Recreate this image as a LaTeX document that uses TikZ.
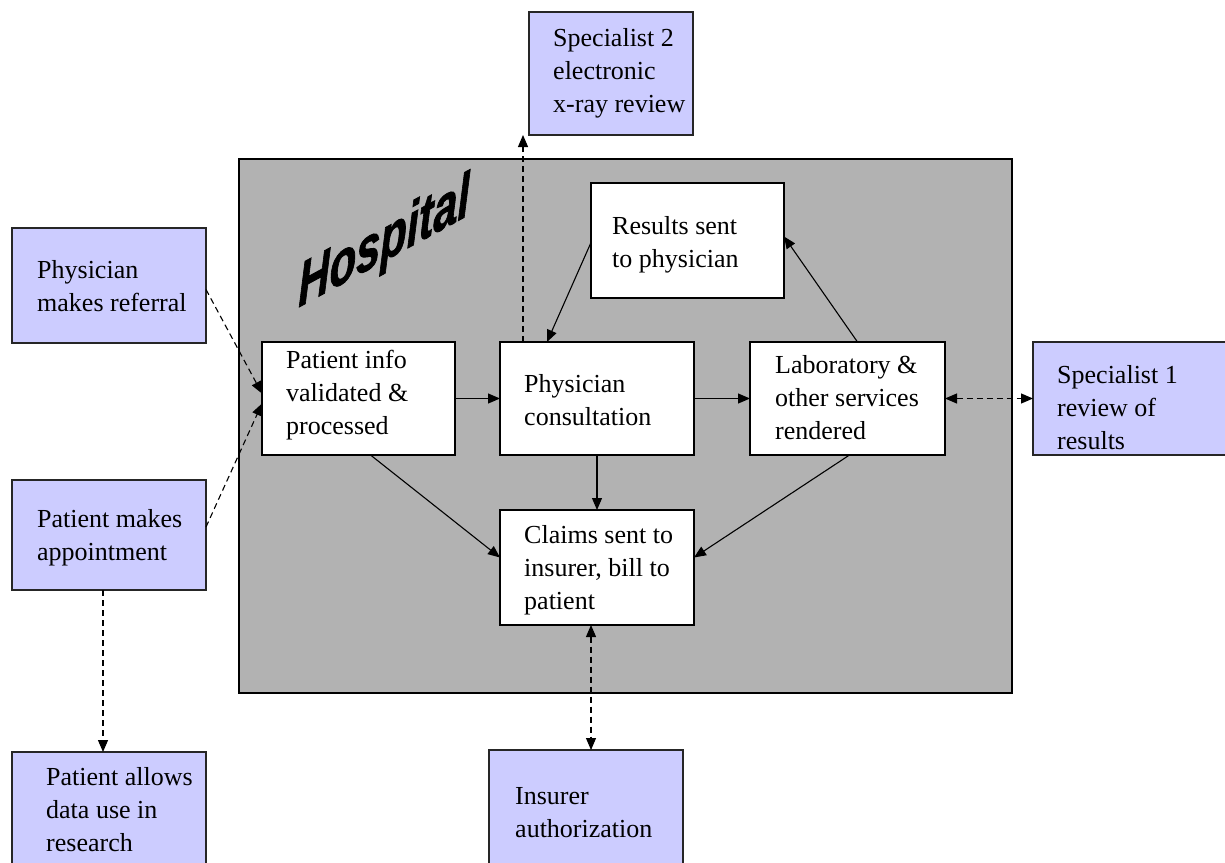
\documentclass[tikz,border=0pt]{standalone}
\usepackage{fontspec}
\setmainfont{Liberation Serif}
\newfontfamily\hospfont[FakeBold=1.5]{Liberation Sans Bold Italic}
\usetikzlibrary{arrows.meta,calc}
\definecolor{lav}{HTML}{CCCCFF}
\definecolor{hosp}{HTML}{B2B2B2}
\begin{document}
\begin{tikzpicture}[x=1pt,y=-1pt,
  wbox/.style={draw=black,line width=1.4pt,fill=white,inner sep=0pt,outer sep=0pt},
  lbox/.style={draw=black!85,line width=1.6pt,fill=lav,inner sep=0pt,outer sep=0pt},
  txt/.style={anchor=west,align=left,inner sep=0pt,font=\fontsize{26}{33}\selectfont},
  conn/.style={line width=1.1pt,-{Triangle[length=12pt,width=10pt]}},
  dconn/.style={line width=1.1pt,dash pattern=on 6pt off 4pt,-{Triangle[length=12pt,width=10pt]}},
  ddconn/.style={line width=1.1pt,dash pattern=on 6pt off 4pt,{Triangle[length=12pt,width=10pt]}-{Triangle[length=12pt,width=10pt]}}
]
\useasboundingbox (0,0) rectangle (1225,862);
\fill[white] (0,0) rectangle (1225,862);
% hospital area
\node[draw=black,line width=1.3pt,fill=hosp,minimum width=773pt,minimum height=534pt,inner sep=0pt] (hospital) at (625.5,426) {};
\node[font=\hospfont\fontsize{62}{62}\selectfont,xscale=0.7,yslant=0.38,transform shape,inner sep=0pt] (hosplabel) at (384,245) {Hospital};
% outside boxes
\node[lbox,minimum width=164pt,minimum height=123pt] (spec2) at (611,73.5) {};
\node[lbox,minimum width=194pt,minimum height=115pt] (ref) at (109,285.5) {};
\node[lbox,minimum width=194pt,minimum height=110pt] (app) at (109,535) {};
\node[lbox,minimum width=194pt,minimum height=118pt] (allow) at (109,811) {};
\node[lbox,minimum width=194pt,minimum height=120pt] (ins) at (586,810) {};
\node[lbox,minimum width=197pt,minimum height=113pt] (spec1) at (1131.5,398.5) {};
% inside boxes
\node[wbox,minimum width=193pt,minimum height=115pt] (res) at (687.5,240.5) {};
\node[wbox,minimum width=193pt,minimum height=113pt] (pi) at (358.5,398.5) {};
\node[wbox,minimum width=194pt,minimum height=113pt] (pc) at (597,398.5) {};
\node[wbox,minimum width=195pt,minimum height=113pt] (lab) at (847.5,398.5) {};
\node[wbox,minimum width=194pt,minimum height=115pt] (cl) at (597,567.5) {};
% texts
\node[txt] (tspec2) at (553,73) {Specialist 2\\electronic\\x-ray review};
\node[txt] (tref) at (37,286) {Physician\\makes referral};
\node[txt] (tapp) at (37,538) {Patient makes\\appointment};
\node[txt] (tallow) at (46,810) {Patient allows\\data use in\\research};
\node[txt] (tins) at (515,813) {Insurer\\authorization};
\node[txt] (tspec1) at (1057,408) {Specialist 1\\review of\\results};
\node[txt] (tres) at (612,245) {Results sent\\to physician};
\node[txt] (tpi) at (286,395) {Patient info\\validated \&\\processed};
\node[txt] (tpc) at (524,400) {Physician\\consultation};
\node[txt] (tlab) at (775,398) {Laboratory \&\\other services\\rendered};
\node[txt] (tcl) at (524,570) {Claims sent to\\insurer, bill to\\patient};
% connectors
\draw[dconn] ([yshift=-4pt]ref.east) -- ([yshift=5pt]pi.west);
\draw[dconn] ([yshift=8pt]app.east) -- ([yshift=-5pt]pi.west);
\draw[conn] (pi.east) -- (pc.west);
\draw[conn] (pc.east) -- (lab.west);
\draw[conn] ([xshift=10pt]lab.north) -- ([yshift=4pt]res.east);
\draw[conn] ([yshift=-2pt]res.west) -- ([xshift=-50pt]pc.north);
\coordinate (pcup) at ([xshift=-74pt]pc.north);
\draw[dconn] (pcup) -- (pcup |- spec2.south);
\draw[conn] ([xshift=12pt]pi.south) -- ([yshift=10pt]cl.west);
\draw[conn] (pc.south) -- (cl.north);
\draw[conn] ([xshift=2pt]lab.south) -- ([yshift=10pt]cl.east);
\draw[ddconn] (lab.east) -- (spec1.west);
\coordinate (cldown) at ([xshift=-6pt]cl.south);
\draw[ddconn] (cldown) -- (cldown |- ins.north);
\coordinate (appdown) at ([xshift=-6pt]app.south);
\draw[dconn] (appdown) -- (appdown |- allow.north);
\end{tikzpicture}
\end{document}
